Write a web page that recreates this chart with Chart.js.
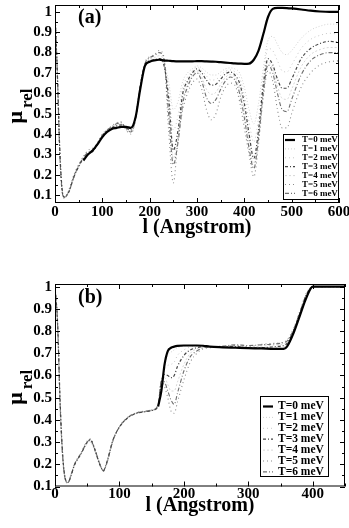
<!DOCTYPE html>
<html><head><meta charset="utf-8">
<script src="https://cdn.jsdelivr.net/npm/chart.js@4.4.1/dist/chart.umd.min.js"></script>
<style>
html,body{margin:0;padding:0;background:#fff;width:349px;height:528px;overflow:hidden;}
#wa{position:absolute;left:0;top:0;width:349px;height:245px;}
#wb{position:absolute;left:0;top:264px;width:349px;height:264px;}
</style></head><body>
<div id="wa"><canvas id="ca"></canvas></div>
<div id="wb"><canvas id="cb"></canvas></div>
<script>
// ---------- data ----------
const seriesNames = ['T=0 meV','T=1 meV','T=2 meV','T=3 meV','T=4 meV','T=5 meV','T=6 meV'];
const xTitle = 'l (Angstrom)';
const yTitleMain = 'μ';
const yTitleSub = 'rel';
const panelLabels = ['(a)', '(b)'];

const yTickValues = [0.1,0.2,0.3,0.4,0.5,0.6,0.7,0.8,0.9,1.0];
const yTickLabels = ['0.1','0.2','0.3','0.4','0.5','0.6','0.7','0.8','0.9','1'];
const xTicksA = [0,100,200,300,400,500,600];
const xTicksB = [0,100,200,300,400];

// panel (a)
const xA = [0,5,10,15,20,25,30,40,50,60,70,80,90,100,110,120,130,140,150,160,170,180,190,200,210,220,230,240,250,260,270,280,290,300,310,320,330,340,350,360,370,380,390,400,410,420,430,440,450,460,470,480,490,500,520,540,560,580,600];
const T0a = [null,null,null,null,null,null,null,null,null,0.27,0.30,0.32,0.35,0.385,0.41,0.425,0.43,0.435,0.435,0.43,0.48,0.62,0.735,0.755,0.762,0.765,0.762,0.76,0.758,0.757,0.757,0.757,0.757,0.758,0.758,0.757,0.756,0.755,0.753,0.751,0.749,0.747,0.746,0.745,0.746,0.765,0.81,0.89,0.975,1.015,1.02,1.02,1.019,1.017,1.012,1.006,1.002,1.0,1.0];
const T1a = [1.0,0.71,0.34,0.135,0.09,0.095,0.115,0.185,0.235,0.275,0.30,0.318,0.35,0.388,0.412,0.428,0.435,0.44,0.432,0.425,0.48,0.625,0.737,0.757,0.763,0.768,0.75,0.66,0.52,0.56,0.66,0.70,0.72,0.735,0.725,0.705,0.69,0.69,0.705,0.72,0.725,0.72,0.70,0.63,0.52,0.45,0.55,0.72,0.86,0.88,0.84,0.80,0.79,0.81,0.87,0.91,0.93,0.94,0.94];
const T2a = [1.0,0.705,0.335,0.13,0.09,0.1,0.118,0.188,0.238,0.278,0.30,0.316,0.35,0.389,0.414,0.429,0.438,0.442,0.431,0.422,0.48,0.628,0.738,0.758,0.764,0.77,0.745,0.62,0.42,0.49,0.63,0.68,0.71,0.728,0.712,0.685,0.665,0.668,0.688,0.708,0.715,0.705,0.675,0.59,0.46,0.36,0.48,0.68,0.82,0.81,0.76,0.71,0.705,0.74,0.82,0.865,0.885,0.895,0.89];
const T3a = [1.0,0.70,0.33,0.13,0.09,0.10,0.12,0.19,0.24,0.28,0.30,0.315,0.35,0.39,0.415,0.43,0.44,0.445,0.43,0.42,0.48,0.63,0.74,0.76,0.765,0.77,0.74,0.58,0.32,0.42,0.60,0.66,0.70,0.72,0.70,0.665,0.64,0.645,0.67,0.695,0.705,0.69,0.65,0.55,0.40,0.28,0.42,0.64,0.77,0.74,0.67,0.625,0.625,0.67,0.77,0.82,0.845,0.855,0.85];
const T4a = [1.0,0.695,0.32,0.125,0.088,0.10,0.122,0.192,0.243,0.283,0.305,0.318,0.352,0.392,0.418,0.432,0.445,0.45,0.428,0.415,0.475,0.632,0.742,0.768,0.775,0.785,0.755,0.54,0.28,0.39,0.575,0.645,0.69,0.71,0.68,0.62,0.595,0.605,0.645,0.678,0.692,0.678,0.625,0.515,0.365,0.255,0.40,0.62,0.755,0.72,0.635,0.575,0.57,0.62,0.73,0.79,0.815,0.825,0.825];
const T5a = [1.0,0.68,0.30,0.12,0.09,0.10,0.13,0.20,0.25,0.29,0.32,0.33,0.36,0.40,0.42,0.44,0.455,0.46,0.42,0.40,0.47,0.64,0.75,0.78,0.79,0.81,0.78,0.42,0.16,0.38,0.52,0.60,0.65,0.67,0.62,0.52,0.47,0.50,0.58,0.63,0.65,0.64,0.56,0.43,0.30,0.19,0.35,0.58,0.71,0.66,0.52,0.43,0.43,0.50,0.63,0.70,0.74,0.755,0.76];
const T6a = [1.0,0.69,0.31,0.12,0.085,0.10,0.12,0.19,0.245,0.285,0.31,0.32,0.355,0.395,0.42,0.435,0.45,0.455,0.425,0.41,0.47,0.635,0.745,0.775,0.785,0.80,0.77,0.50,0.25,0.36,0.55,0.63,0.68,0.70,0.66,0.58,0.55,0.57,0.62,0.66,0.68,0.665,0.60,0.48,0.33,0.23,0.38,0.60,0.74,0.70,0.60,0.52,0.51,0.57,0.69,0.76,0.79,0.80,0.80];

// panel (b)
const xB = [0,4,8,12,16,20,25,30,40,50,55,60,70,75,80,90,100,110,120,130,140,150,160,165,170,175,180,185,190,200,210,220,230,240,260,280,300,320,340,355,360,370,380,390,400,420,450];
const T0b = [null,null,null,null,null,null,null,null,null,null,null,null,null,null,null,null,null,null,null,null,null,null,0.46,0.53,0.65,0.71,0.725,0.73,0.733,0.735,0.735,0.735,0.734,0.73,0.727,0.725,0.723,0.722,0.72,0.72,0.73,0.79,0.87,0.95,1.0,1.0,1.0];
const T1b = [1.0,0.845,0.49,0.245,0.138,0.12,0.15,0.192,0.242,0.292,0.298,0.272,0.192,0.174,0.208,0.31,0.366,0.401,0.421,0.431,0.436,0.441,0.461,0.545,0.64,0.69,0.705,0.715,0.725,0.732,0.734,0.735,0.734,0.731,0.728,0.727,0.724,0.723,0.722,0.725,0.735,0.795,0.875,0.955,1.0,1.0,1.0];
const T2b = [1.0,0.842,0.485,0.242,0.136,0.119,0.15,0.194,0.244,0.296,0.304,0.276,0.194,0.173,0.206,0.31,0.367,0.402,0.422,0.432,0.437,0.442,0.462,0.56,0.625,0.645,0.65,0.66,0.69,0.715,0.728,0.732,0.733,0.731,0.728,0.728,0.724,0.724,0.726,0.73,0.74,0.80,0.878,0.958,1.0,1.0,1.0];
const T3b = [1.0,0.84,0.48,0.24,0.135,0.118,0.15,0.195,0.245,0.30,0.31,0.28,0.195,0.172,0.205,0.31,0.368,0.402,0.422,0.432,0.437,0.442,0.462,0.57,0.605,0.60,0.59,0.60,0.64,0.69,0.715,0.725,0.73,0.73,0.728,0.73,0.725,0.725,0.73,0.735,0.745,0.80,0.88,0.96,1.0,1.0,1.0];
const T4b = [1.0,0.835,0.47,0.235,0.133,0.117,0.151,0.197,0.247,0.302,0.311,0.281,0.197,0.171,0.203,0.309,0.369,0.404,0.424,0.434,0.439,0.443,0.465,0.575,0.59,0.56,0.53,0.53,0.57,0.65,0.70,0.72,0.728,0.73,0.73,0.733,0.728,0.732,0.737,0.742,0.75,0.803,0.883,0.963,1.0,1.0,1.0];
const T5b = [1.0,0.82,0.45,0.22,0.13,0.115,0.155,0.20,0.25,0.305,0.315,0.285,0.20,0.168,0.20,0.305,0.37,0.405,0.425,0.435,0.44,0.445,0.47,0.58,0.55,0.50,0.44,0.43,0.48,0.58,0.66,0.70,0.72,0.725,0.73,0.735,0.73,0.74,0.745,0.75,0.76,0.81,0.89,0.97,1.0,1.0,1.0];
const T6b = [1.0,0.83,0.46,0.23,0.132,0.118,0.152,0.198,0.248,0.30,0.312,0.282,0.198,0.17,0.202,0.308,0.368,0.403,0.424,0.434,0.438,0.444,0.466,0.575,0.57,0.53,0.49,0.47,0.52,0.62,0.685,0.71,0.725,0.728,0.732,0.738,0.735,0.738,0.742,0.748,0.755,0.805,0.885,0.965,1.0,1.0,1.0];

// ---------- styles ----------
const lineColors = ['#000000','#d2d2d2','#c8c8c8','#444444','#d8d8d8','#8a8a8a','#707070'];
const lineWidths = [2.2,1,1,1.2,1,1.1,1.1];
const lineDashes = [[],[1,2],[1,3],[3,2,1,2],[2,2],[1,3],[4,2,1,2]];
const drawOrder = [0,6,5,1,4,3,2]; // lower = drawn on top
const FONT = "'Liberation Serif','Times New Roman',serif";

function panelPlugin(o) {
  return {
    id: 'panel' + o.tag,
    afterDatasetsDraw(chart) {
      const {ctx, chartArea: ca, scales: {x, y}} = chart;
      ctx.save();
      ctx.strokeStyle = '#000'; ctx.lineWidth = 1; ctx.setLineDash([]);
      ctx.strokeRect(ca.left + 0.5, ca.top + 0.5, ca.right - ca.left - 1, ca.bottom - ca.top - 1);
      ctx.beginPath();
      for (let v = 0; v <= x.max + 1e-9; v += o.xMinor) {
        const px = Math.round(x.getPixelForValue(v)) + 0.5;
        const major = Math.abs(v / o.xMajor - Math.round(v / o.xMajor)) < 1e-6;
        const L = major ? 5 : 3;
        ctx.moveTo(px, ca.bottom); ctx.lineTo(px, ca.bottom - L);
        ctx.moveTo(px, ca.top); ctx.lineTo(px, ca.top + L);
      }
      for (let k = 1; k <= 20; k++) {
        const v = k * 0.05;
        if (v < y.min || v > y.max) continue;
        const py = Math.round(y.getPixelForValue(v)) + 0.5;
        const L = (k % 2 === 0) ? 5 : 3;
        ctx.moveTo(ca.left, py); ctx.lineTo(ca.left + L, py);
        ctx.moveTo(ca.right, py); ctx.lineTo(ca.right - L, py);
      }
      ctx.stroke();
      ctx.restore();
    },
    afterDraw(chart) {
      const {ctx, chartArea: ca} = chart;
      ctx.save();
      ctx.fillStyle = '#000';
      ctx.font = 'bold 20px ' + FONT;
      ctx.textBaseline = 'middle'; ctx.textAlign = 'left';
      ctx.fillText(o.label, ca.left + 23, ca.top + o.labelDy);
      ctx.font = 'bold 22px ' + FONT;
      const wMu = ctx.measureText(yTitleMain).width;
      ctx.font = 'bold 17px ' + FONT;
      const wRel = ctx.measureText(yTitleSub).width;
      const total = wMu + 3 + wRel;
      const cy = (ca.top + ca.bottom) / 2 + 2;
      ctx.translate(22, cy + total / 2);
      ctx.rotate(-Math.PI / 2);
      ctx.textBaseline = 'alphabetic';
      ctx.font = 'bold 22px ' + FONT;
      ctx.fillText(yTitleMain, 0, 0);
      ctx.font = 'bold 17px ' + FONT;
      ctx.fillText(yTitleSub, wMu + 3, 10);
      ctx.setTransform(1, 0, 0, 1, 0, 0);
      const L = o.legend;
      ctx.fillStyle = '#fff';
      ctx.fillRect(L.x, L.y, L.w, L.h);
      ctx.strokeStyle = '#000'; ctx.lineWidth = 1;
      ctx.strokeRect(L.x + 0.5, L.y + 0.5, L.w - 1, L.h - 1);
      ctx.font = 'bold ' + L.font + 'px ' + FONT;
      ctx.textBaseline = 'middle'; ctx.textAlign = 'left';
      chart.data.datasets.forEach((ds, i) => {
        const yy = L.y + L.first + i * L.step;
        ctx.beginPath();
        ctx.strokeStyle = ds.borderColor; ctx.lineWidth = ds.borderWidth;
        ctx.setLineDash(ds.borderDash || []);
        ctx.moveTo(L.x + L.s0, yy); ctx.lineTo(L.x + L.s1, yy);
        ctx.stroke();
        ctx.setLineDash([]);
        ctx.fillStyle = '#000';
        ctx.fillText(ds.label, L.x + L.tx, yy);
      });
      ctx.restore();
    }
  };
}

function buildChart(id, xs, ys, o) {
  const datasets = ys.map((arr, i) => ({
    label: seriesNames[i],
    data: xs.map((xv, j) => ({x: xv, y: arr[j]})),
    borderColor: lineColors[i],
    borderWidth: lineWidths[i],
    borderDash: lineDashes[i],
    order: drawOrder[i],
    pointRadius: 0,
    fill: false,
    spanGaps: false,
    cubicInterpolationMode: 'monotone'
  }));
  return new Chart(document.getElementById(id), {
    type: 'line',
    data: {datasets},
    options: {
      responsive: true, maintainAspectRatio: false, animation: false, devicePixelRatio: 1,
      layout: {padding: {left: 0, right: o.padRight, top: o.padTop, bottom: 0}},
      plugins: {legend: {display: false}, tooltip: {enabled: false}},
      scales: {
        x: {
          type: 'linear', min: 0, max: o.xMax,
          grid: {display: false, drawTicks: false},
          border: {display: false},
          afterBuildTicks: s => { s.ticks = o.xTicks.map(v => ({value: v})); },
          afterFit: s => { s.height = o.xAxisH; s.paddingLeft = 0; s.paddingRight = 0; },
          ticks: {color: '#000', padding: o.xTickPad, maxRotation: 0, autoSkip: false,
                  font: {family: FONT, size: 15, weight: 'bold', lineHeight: 1},
                  callback: v => String(v)},
          title: {display: true, text: xTitle, color: '#000',
                  font: {family: FONT, size: 20, weight: 'bold', lineHeight: 1.2},
                  padding: {top: 0, bottom: o.xTitlePad}}
        },
        y: {
          type: 'linear', min: o.yMin, max: o.yMax,
          grid: {display: false, drawTicks: false},
          border: {display: false},
          afterBuildTicks: s => { s.ticks = yTickValues.map(v => ({value: v})); },
          afterFit: s => { s.width = 55; s.paddingTop = 0; s.paddingBottom = 0; },
          ticks: {color: '#000', padding: 3, autoSkip: false,
                  font: {family: FONT, size: 15, weight: 'bold', lineHeight: 1},
                  callback: v => { const k = yTickValues.findIndex(t => Math.abs(t - v) < 1e-6); return k >= 0 ? yTickLabels[k] : ''; }}
        }
      }
    },
    plugins: [panelPlugin(o)]
  });
}

buildChart('ca', xA, [T0a,T1a,T2a,T3a,T4a,T5a,T6a], {
  tag: 'a', label: panelLabels[0], labelDy: 13,
  xMax: 600, xTicks: xTicksA, xMajor: 100, xMinor: 50,
  yMin: 0.061, yMax: 1.034,
  padRight: 10, padTop: 5, xAxisH: 42, xTickPad: 1.5, xTitlePad: 5,
  legend: {x: 283, y: 134, w: 56, h: 66, font: 9, first: 6, step: 8.9, s0: 2, s1: 12, tx: 19}
});
buildChart('cb', xB, [T0b,T1b,T2b,T3b,T4b,T5b,T6b], {
  tag: 'b', label: panelLabels[1], labelDy: 13.5,
  xMax: 450, xTicks: xTicksB, xMajor: 100, xMinor: 50,
  yMin: 0.1, yMax: 1.012,
  padRight: 4, padTop: 20, xAxisH: 41.5, xTickPad: 0, xTitlePad: 10.5,
  legend: {x: 260, y: 132, w: 69, h: 81, font: 11.5, first: 10.5, step: 10.9, s0: 3, s1: 13, tx: 18}
});
</script>
</body></html>
